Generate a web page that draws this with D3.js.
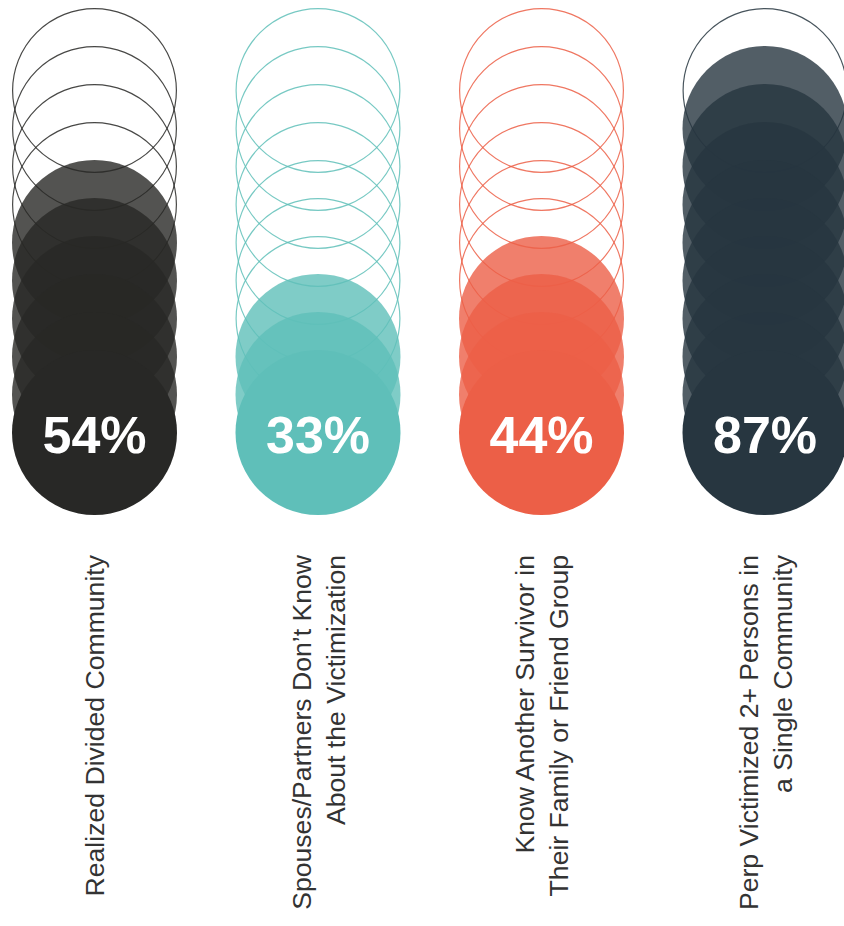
<!DOCTYPE html>
<html>
<head>
<meta charset="utf-8">
<script src="https://cdn.jsdelivr.net/npm/d3@7"></script>
<style>
  html, body { margin: 0; padding: 0; background: #fff; }
  svg { display: block; }
</style>
</head>
<body>
<svg id="chart" width="844" height="926"></svg>
<script>
// Survey findings shown as stacks of ten circles each
const categories = [
  "Realized Divided Community",
  "Spouses/Partners Don't Know About the Victimization",
  "Know Another Survivor in Their Family or Friend Group",
  "Perp Victimized 2+ Persons in a Single Community"
];
const labelLines = [
  ["Realized Divided Community"],
  ["Spouses/Partners Don\u2019t Know", "About the Victimization"],
  ["Know Another Survivor in", "Their Family or Friend Group"],
  ["Perp Victimized 2+ Persons in", "a Single Community"]
];
const percentValues = [54, 33, 44, 87];
const filledCircles = [6, 3, 4, 9];
const colors = ["#282826", "#5fbfb9", "#ec5f47", "#273640"];
const circlesPerStack = 10;

const svg = d3.select("#chart");

const x = d3.scalePoint().domain(categories).range([94.5, 765]);
const y = d3.scaleLinear().domain([0, circlesPerStack - 1]).range([90.5, 432.5]);
const r = 82.5;

const columns = categories.map((c, i) => ({
  category: c,
  value: percentValues[i],
  filled: filledCircles[i],
  color: colors[i],
  lines: labelLines[i]
}));

const col = svg.selectAll("g.column")
  .data(columns)
  .join("g")
  .attr("class", "column")
  .attr("transform", d => `translate(${x(d.category)},0)`);

// circles, top to bottom; the lowest ones are filled, the last one solid
col.selectAll("circle")
  .data(d => d3.range(circlesPerStack).map(k => ({
    k,
    color: d.color,
    filled: k >= circlesPerStack - d.filled
  })))
  .join("circle")
  .attr("cx", 0)
  .attr("cy", d => y(d.k))
  .attr("r", d => d.filled ? r : r - 0.6)
  .attr("fill", d => d.filled ? d.color : "none")
  .attr("fill-opacity", d => d.k === circlesPerStack - 1 ? 1 : 0.8)
  .attr("stroke", d => d.filled ? "none" : d.color)
  .attr("stroke-opacity", 0.85)
  .attr("stroke-width", 1.2);

// percentage inside the bottom circle
col.append("text")
  .attr("x", 0)
  .attr("y", y(circlesPerStack - 1) + 20)
  .attr("text-anchor", "middle")
  .attr("fill", "#fff")
  .attr("font-family", "'Liberation Sans', Arial, sans-serif")
  .attr("font-weight", 700)
  .attr("font-size", 52)
  .text(d => d.value + "%");

// rotated category labels
const capH = 19, lineH = 34;
const lab = col.append("g")
  .attr("transform", "translate(0,555) rotate(-90)");
lab.selectAll("text")
  .data(d => d.lines.map((t, k) => ({ t, k, n: d.lines.length })))
  .join("text")
  .attr("x", 0)
  .attr("y", d => capH / 2 + (d.k - (d.n - 1) / 2) * lineH)
  .attr("text-anchor", "end")
  .attr("fill", "#333333")
  .attr("font-family", "'Liberation Sans', Arial, sans-serif")
  .attr("font-size", 26.6)
  .text(d => d.t);
</script>
</body>
</html>
